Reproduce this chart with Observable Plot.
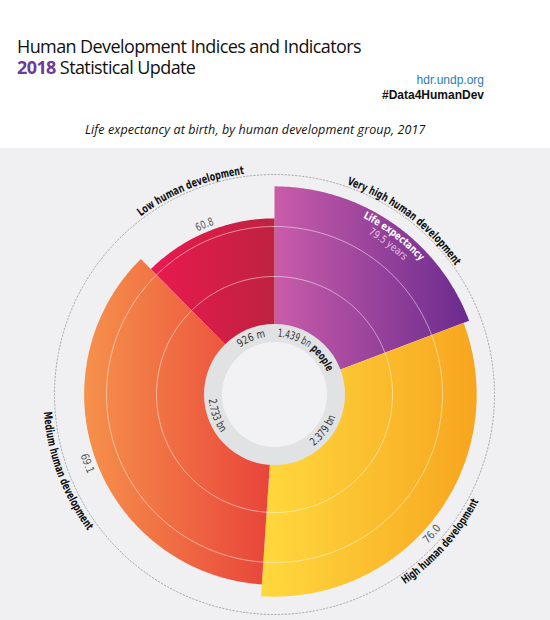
<!DOCTYPE html>
<html><head><meta charset="utf-8">
<script src="https://cdn.jsdelivr.net/npm/d3@7"></script>
<script src="https://cdn.jsdelivr.net/npm/@observablehq/plot@0.6"></script>
<style>
body{margin:0;background:#fff;}
#wrap{position:relative;width:550px;height:620px;overflow:hidden;}
#head{position:relative;height:148px;}
#head div{position:absolute;white-space:nowrap;}
.title{left:17px;font-family:"Open Sans",sans-serif;font-size:18px;line-height:18px;color:#111;letter-spacing:-0.6px;}
.url{right:66px;top:74px;font-family:"Liberation Sans",Arial,sans-serif;font-size:12px;line-height:12px;color:#2b7bb9;}
.tag{right:66px;top:89px;font-family:"Liberation Sans",Arial,sans-serif;font-size:12px;line-height:12px;font-weight:bold;color:#111;}
.sub{left:85px;top:124px;font-family:"Open Sans",sans-serif;font-style:italic;font-size:12.5px;line-height:12.5px;color:#111;letter-spacing:0.1px;}
#chart svg{display:block;}
</style></head>
<body><div id="wrap">
<div id="head">
 <div class="title" style="top:37px">Human Development Indices and Indicators</div>
 <div class="title" style="top:58px"><b style="color:#6f3a98;font-weight:700">2018</b> Statistical Update</div>
 <div class="url">hdr.undp.org</div>
 <div class="tag">#Data4HumanDev</div>
 <div class="sub">Life expectancy at birth, by human development group, 2017</div>
</div>
<div id="chart"></div>
</div>
<script>
// ---- data ----
const groups = ["Very high human development", "High human development", "Medium human development", "Low human development"];
const lifeExpectancy = [79.5, 76.0, 69.1, 60.8];
const populationBn = [1.439, 2.379, 2.733, 0.926];
const populationLabels = ["1.439 bn", "2.379 bn", "2.733 bn", "926 m"];
const valueLabels = ["79.5", "76.0", "69.1", "60.8"];
const gradientColors = [["#c95ca9", "#6a2b8e"], ["#ffd93e", "#f7a51f"], ["#f6914b", "#e8433a"], ["#e9194f", "#bf223f"]];

// ---- scales for the polar layout ----
const angle = d3.scaleLinear().domain([0, d3.sum(populationBn)]).range([0, 360]);
const radius = d3.scaleLinear().domain([0, 80]).range([72, 209]);
const cum = d3.cumsum(populationBn);
const sectors = groups.map((g, i) => ({
  group: g, le: lifeExpectancy[i],
  a0: angle(cum[i] - populationBn[i]), a1: angle(cum[i])
}));
const rad = a => a * Math.PI / 180;
function sectorPoints(s) {
  const r = radius(s.le), pts = [{x: 0, y: 0}];
  const n = Math.ceil((s.a1 - s.a0) / 0.5);
  for (let k = 0; k <= n; k++) {
    const a = s.a0 + (s.a1 - s.a0) * k / n;
    pts.push({x: r * Math.sin(rad(a)), y: r * Math.cos(rad(a))});
  }
  pts.push({x: 0, y: 0});
  return pts;
}
function circlePoints(r) {
  return d3.range(0, 361, 1).map(a => ({x: r * Math.sin(rad(a)), y: r * Math.cos(rad(a))}));
}
const gridRadii = [118, 168];
const outerRadius = 220;

const condensed = '"Liberation Sans Narrow","Arial Narrow","DejaVu Sans Condensed",sans-serif';

function gradients() {
  const defs = d3.create("svg:defs");
  gradientColors.forEach((c, i) => {
    const lg = defs.append("linearGradient").attr("id", "hdgrad" + i).attr("x1", 0).attr("x2", 1).attr("y1", 0).attr("y2", 0);
    lg.append("stop").attr("offset", "0%").attr("stop-color", c[0]);
    lg.append("stop").attr("offset", "100%").attr("stop-color", c[1]);
  });
  return defs.node();
}

function labels(index, scales) {
  const cx = scales.x(0), cy = scales.y(0);
  const pt = (r, a) => [cx + r * Math.sin(rad(a)), cy - r * Math.cos(rad(a))];
  const g = d3.create("svg:g");
  const defs = g.append("defs");
  let n = 0;
  function arcText(parts, r, a, cw, o) {
    const id = "arcpath" + (n++);
    const anchor = o.anchor || "middle";
    let a0, a1;
    if (anchor === "middle") { a0 = cw ? a - 45 : a + 45; a1 = cw ? a + 45 : a - 45; }
    else { a0 = a; a1 = cw ? a + 90 : a - 90; }
    const [x0, y0] = pt(r, a0), [x1, y1] = pt(r, a1);
    defs.append("path").attr("id", id).attr("d", `M${x0},${y0}A${r},${r} 0 0 ${cw ? 1 : 0} ${x1},${y1}`);
    const t = g.append("text").attr("font-family", condensed).attr("font-size", o.size || 11)
      .attr("fill", o.fill || "#333").attr("font-weight", o.weight || "normal").attr("text-anchor", anchor);
    const tp = t.append("textPath").attr("href", "#" + id).attr("startOffset", anchor === "middle" ? "50%" : "0%");
    if (o.length) tp.attr("textLength", o.length).attr("lengthAdjust", "spacingAndGlyphs");
    parts.forEach(p => tp.append("tspan").attr("font-weight", p.weight || null).attr("fill", p.fill || null).text(p.text));
  }
  const shift = [2.3, 5, 0, 0];
  const groupLen = [138, 112, 128, 113];
  const valueLen = [18, 21, 20, 18];
  const ringLen = [64, 37, 36, 28];
  sectors.forEach((s, i) => {
    const mid = (s.a0 + s.a1) / 2;
    const cw = !(mid > 90 && mid < 270);
    const am = mid + shift[i];
    // group name outside dashed circle
    arcText([{text: s.group}], cw ? 222 : 231, am, cw, {weight: "bold", fill: "#111", size: 11.5, length: groupLen[i]});
    // value labels
    if (i > 0) {
      const r = radius(s.le);
      arcText([{text: valueLabels[i]}], cw ? r + 3.5 : r + 12.5, am, cw, {fill: "#555", size: 11, length: valueLen[i]});
    }
    // population in ring
    if (i === 0) {
      arcText([{text: populationLabels[i] + " "}, {text: "people", weight: "bold", fill: "#111"}], 57.5, s.a0 + 3.5, true, {anchor: "start", size: 11, length: ringLen[i]});
    } else {
      arcText([{text: populationLabels[i]}], cw ? 57.5 : 65.5, mid, cw, {size: 11, length: ringLen[i]});
    }
  });
  // life expectancy annotation inside very high sector
  const s0 = sectors[0], m0 = (s0.a0 + s0.a1) / 2 + 2.6;
  arcText([{text: "Life expectancy"}], 197.5, m0, true, {weight: "bold", fill: "#fff", size: 10.5, length: 72});
  arcText([{text: valueLabels[0] + " years"}], 186, m0, true, {fill: "rgba(255,255,255,0.7)", size: 10.5, length: 45});
  return g.node();
}

const marks = [gradients];
sectors.forEach((s, i) => {
  marks.push(Plot.line(sectorPoints(s), {x: "x", y: "y", fill: `url(#hdgrad${i})`, stroke: "none"}));
});
gridRadii.forEach(r => marks.push(Plot.line(circlePoints(r), {x: "x", y: "y", stroke: "#fff", strokeOpacity: 0.55, strokeWidth: 0.9})));
marks.push(Plot.line(circlePoints(outerRadius), {x: "x", y: "y", stroke: "#9a9a9a", strokeWidth: 0.8, strokeDasharray: "1.5,2"}));
marks.push(Plot.dot([{x: 0, y: 0}], {x: "x", y: "y", r: 70.5, fill: "#e1e2e4", stroke: "none"}));
marks.push(Plot.dot([{x: 0, y: 0}], {x: "x", y: "y", r: 52.5, fill: "#f2f2f4", stroke: "none"}));
marks.push(labels);

const chart = Plot.plot({
  width: 550, height: 472, margin: 0,
  x: {domain: [-274, 276], axis: null},
  y: {domain: [-226, 246], axis: null},
  style: {background: "#f0f0f2", overflow: "visible"},
  marks
});
document.getElementById("chart").appendChild(chart);
</script>
</body></html>
